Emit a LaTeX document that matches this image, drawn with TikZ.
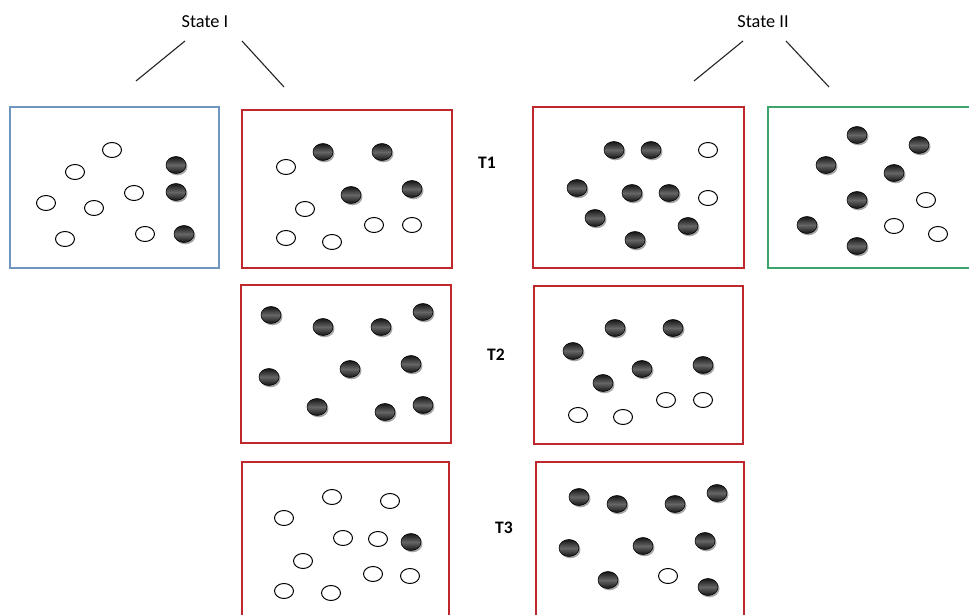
\documentclass[tikz,border=0pt]{standalone}
\usepackage{fontspec}
\setmainfont{Carlito}
\usepackage{tikz}
\usetikzlibrary{fit}
\definecolor{boxblue}{RGB}{110,150,190}
\definecolor{boxred}{RGB}{190,40,45}
\definecolor{boxgreen}{RGB}{60,165,110}
\begin{document}
\begin{tikzpicture}[x=0.025cm, y=-0.025cm,
  framebox/.style={rectangle,draw,line width=1pt,inner sep=0pt},
  statelbl/.style={font=\fontsize{13}{15}\selectfont},
  timelbl/.style={font=\fontsize{12.5}{15}\selectfont\bfseries},
  branch/.style={line width=0.8pt,black!85},
  whiteball/.style={draw=black,line width=0.7pt,fill=white},
  blackball/.style={draw=black,line width=0.4pt,top color=black!92,
                    bottom color=black!92,middle color=black!60},
  ballshadow/.style={fill=black!35}]
  \useasboundingbox (0,0) rectangle (969,615);

  % --- labels ---
  \node[statelbl] (s1) at (205,22) {State I};
  \node[statelbl] (s2) at (763,22) {State II};
  \node[timelbl] (t1) at (487,163) {T1};
  \node[timelbl] (t2) at (496,355) {T2};
  \node[timelbl] (t3) at (504,528) {T3};

  \coordinate (s1l) at (136,81);
  \coordinate (s1r) at (284,87);
  \coordinate (s2l) at (694,81);
  \coordinate (s2r) at (829,87);
  \draw[branch] (s1.center) ++(-20,19) -- (s1l);
  \draw[branch] (s1.center) ++(37,19) -- (s1r);
  \draw[branch] (s2.center) ++(-20,19) -- (s2l);
  \draw[branch] (s2.center) ++(23,19) -- (s2r);

  % --- boxes ---
  \node[framebox,draw=boxblue,fit={(10,107) (219,268)}] (init) {};
  \node[framebox,draw=boxred,fit={(242,110) (452,268)}] (a1) {};
  \node[framebox,draw=boxred,fit={(533,107) (744,268)}] (b1) {};
  \node[framebox,draw=boxgreen,fit={(768,107) (980,268)}] (fin) {};
  \node[framebox,draw=boxred,fit={(241,285) (451,443)}] (a2) {};
  \node[framebox,draw=boxred,fit={(534,286) (743,444)}] (b2) {};
  \node[framebox,draw=boxred,fit={(242,462) (449,640)}] (a3) {};
  \node[framebox,draw=boxred,fit={(536,462) (744,640)}] (b3) {};

  % --- empty sites ---
  \foreach \x/\y in {112/150,75/172,46/203,94/208,134/193,65/239,145/234,
                     286/167,305/209,286/238,332/242,374/225,412/225,
                     708/150,708/198,
                     926/200,894/226,938/234,
                     578/415,623/417,666/400,703/400,
                     332/497,390/501,284/518,343/538,378/539,303/561,
                     373/574,410/576,284/591,331/593,
                     668/576}
    \draw[whiteball] (\x,\y) ellipse [x radius=9.5, y radius=7.5];

  % --- occupied sites ---
  \foreach \x/\y in {176/165,176/192,184/234,
                     323/152,382/152,351/195,412/189,
                     614/150,651/150,577/188,632/193,669/193,595/218,688/226,635/240,
                     857/135,919/145,826/165,894/173,857/200,807/225,857/246,
                     271/315,323/327,381/327,423/312,269/377,350/369,411/364,
                     317/407,385/412,423/405,
                     615/328,673/328,573/351,642/369,703/365,603/383,
                     411/542,
                     579/497,617/504,675/504,717/493,569/548,643/546,705/541,
                     608/580,708/587} {
    \fill[ballshadow] (\x+1.5,\y+1.8) ellipse [x radius=10, y radius=8.5];
    \shade[blackball] (\x,\y) ellipse [x radius=10, y radius=8.5];
  }
\end{tikzpicture}
\end{document}
